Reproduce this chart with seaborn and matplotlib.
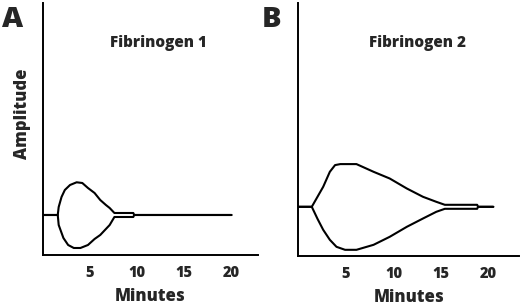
# Fibrinogen amplitude traces (panels A and B)
import seaborn as sns
import matplotlib.pyplot as plt

# Panel A - Fibrinogen 1 (amplitude relative to baseline)
a_time_up = [0, 1.6, 1.7, 2.0, 2.35, 2.9, 3.6, 4.2, 4.8, 5.5, 6.1, 6.7, 7.1, 7.6, 9.6, 9.7, 20]
a_upper = [0, 0, 8, 18, 25, 30, 32.7, 32, 27, 22, 15, 10, 7, 2, 2, 0, 0]
a_time_lo = [0, 1.6, 1.7, 2.2, 2.7, 3.3, 4.0, 4.8, 5.5, 6.1, 7.1, 7.6, 9.6, 9.7, 20]
a_lower = [0, 0, -10, -23, -30, -33, -33, -30, -24, -20, -10, -2, -2, 0, 0]

# Panel B - Fibrinogen 2
b_time_up = [0, 1.4, 2.0, 2.6, 3.3, 3.85, 4.4, 6.1, 7.9, 9.6, 11.4, 13.1, 14.5, 15.4, 18.8, 18.9, 20.5]
b_upper = [0, 0, 10, 20, 35, 41.7, 42.7, 42.7, 35, 28.3, 18.3, 10, 5, 2, 2, 0, 0]
b_time_lo = [0, 1.4, 2.0, 2.6, 3.3, 4.0, 4.9, 6.1, 7.9, 9.6, 11.4, 13.1, 14.5, 15.4, 18.8, 18.9, 20.5]
b_lower = [0, 0, -12, -23, -33, -40, -43, -43, -38, -30, -20, -11.7, -5, -2, -2, 0, 0]

ticks = [5, 10, 15, 20]

sns.set_style('white')
plt.rcParams['font.family'] = ['Open Sans', 'DejaVu Sans']
W = 800

fig = plt.figure(figsize=(5.2, 3.06), dpi=100)
ax1 = fig.add_axes([0.082, 0.1667, 0.414, 0.8235])
ax2 = fig.add_axes([0.574, 0.164, 0.424, 0.826])

panels = [
    (ax1, a_time_up, a_upper, a_time_lo, a_lower, (0, 22.8), (-40, 212), 'Fibrinogen 1', (12.3, 172)),
    (ax2, b_time_up, b_upper, b_time_lo, b_lower, (0, 23.2), (-49, 203.7), 'Fibrinogen 2', (12.5, 164)),
]

for ax, tu, up, tl, lo, xlim, ylim, title, tpos in panels:
    sns.lineplot(x=tu, y=up, ax=ax, color='black', linewidth=1.5, estimator=None, sort=False)
    sns.lineplot(x=tl, y=lo, ax=ax, color='black', linewidth=1.5, estimator=None, sort=False)
    ax.set_xlim(*xlim)
    ax.set_ylim(*ylim)
    ax.set_xticks(ticks)
    ax.set_yticks([])
    ax.tick_params(axis='x', direction='in', length=4, width=1.4, pad=7,
                   labelsize=10.5)
    for lab in ax.get_xticklabels():
        lab.set_fontweight(W)
    for s in ['top', 'right']:
        ax.spines[s].set_visible(False)
    for s in ['left', 'bottom']:
        ax.spines[s].set_linewidth(1.4)
        ax.spines[s].set_color('black')
    ax.set_xlabel('Minutes', fontsize=12, fontweight=W, labelpad=5.5)
    ax.text(tpos[0], tpos[1], title, fontsize=11, fontweight=W, ha='center', va='center')

ax1.set_ylabel('Amplitude', fontsize=12, fontweight=W)
ax1.yaxis.set_label_coords(-0.055, 0.56)
fig.text(0.003, 0.985, 'A', fontsize=21, fontweight=W, ha='left', va='top')
fig.text(0.503, 0.985, 'B', fontsize=21, fontweight=W, ha='left', va='top')

fig.savefig('out.png', dpi=100)
